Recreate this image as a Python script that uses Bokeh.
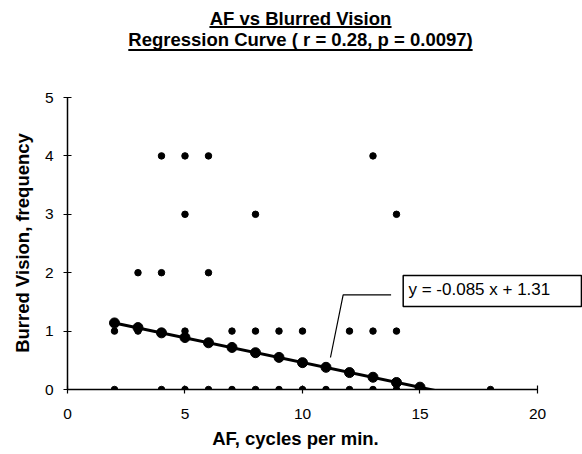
from bokeh.plotting import figure
from bokeh.models import Range1d, FixedTicker, Label, LinearAxis
from bokeh.embed import file_html
from bokeh.resources import INLINE

title_1 = "AF vs Blurred Vision"
title_2 = "Regression Curve ( r = 0.28, p = 0.0097)"
x_label = "AF, cycles per min."
y_label = "Burred Vision, frequency"
equation = "y = -0.085 x  + 1.31"

# observed values (AF, blurred vision frequency)
obs_af = [2, 4, 5, 6, 7, 8, 9, 10, 11, 12, 13, 14, 15, 18,
          2, 3, 5, 7, 8, 9, 10, 12, 13, 14,
          3, 4, 6,
          5, 8, 14,
          4, 5, 6, 13]
obs_bv = [0, 0, 0, 0, 0, 0, 0, 0, 0, 0, 0, 0, 0, 0,
          1, 1, 1, 1, 1, 1, 1, 1, 1, 1,
          2, 2, 2,
          3, 3, 3,
          4, 4, 4, 4]

# fitted values on the regression line
fit_af = [2, 3, 4, 5, 6, 7, 8, 9, 10, 11, 12, 13, 14, 15]
fit_bv = [1.14, 1.06, 0.97, 0.89, 0.80, 0.72, 0.63, 0.55, 0.46, 0.38, 0.29, 0.21, 0.12, 0.04]

# trend line end points
trend_af = [2, 16.5]
trend_bv = [1.14, -0.09]

x_ticks = [0, 5, 10, 15, 20]
y_ticks = [0, 1, 2, 3, 4, 5]

FONT = "Liberation Sans"

p = figure(width=582, height=454,
           x_range=Range1d(0, 21.915), y_range=Range1d(0, 6.661),
           output_backend="svg", toolbar_location=None,
           min_border_left=67, min_border_right=0, min_border_top=0, min_border_bottom=65)
p.background_fill_color = "white"
p.border_fill_color = "white"
p.outline_line_color = None
p.grid.visible = False

xa = p.xaxis[0]
xa.bounds = (0, 20)
xa.ticker = FixedTicker(ticks=x_ticks)
xa.major_label_standoff = 15
ya = p.yaxis[0]
ya.bounds = (0, 5)
ya.ticker = FixedTicker(ticks=y_ticks)
ya.major_label_standoff = 10

for ax in (xa, ya):
    ax.axis_line_color = "black"
    ax.axis_line_width = 1.5
    ax.major_tick_line_color = "black"
    ax.major_tick_line_width = 1.2
    ax.major_tick_in = 4
    ax.major_tick_out = 4
    ax.minor_tick_line_color = None
    ax.major_label_text_font = FONT
    ax.major_label_text_font_size = "15.5px"
    ax.major_label_text_color = "black"

# axis titles, placed as single labelled ticks on extra axes
X_TITLE_AT = 9.70
Y_TITLE_AT = 2.509
xt = LinearAxis(ticker=FixedTicker(ticks=[X_TITLE_AT]),
                major_label_overrides={X_TITLE_AT: x_label},
                axis_line_color=None, major_tick_line_color=None, minor_tick_line_color=None,
                major_tick_in=0, major_tick_out=0, major_label_standoff=6,
                major_label_text_font=FONT, major_label_text_font_size="18.5px",
                major_label_text_font_style="bold", major_label_text_color="black")
p.add_layout(xt, "below")
yt = LinearAxis(ticker=FixedTicker(ticks=[Y_TITLE_AT]),
                major_label_overrides={Y_TITLE_AT: y_label},
                major_label_orientation="vertical",
                axis_line_color=None, major_tick_line_color=None, minor_tick_line_color=None,
                major_tick_in=0, major_tick_out=0, major_label_standoff=8,
                major_label_text_font=FONT, major_label_text_font_size="18.5px",
                major_label_text_font_style="bold", major_label_text_color="black")
p.add_layout(yt, "left")

# trend line and points
p.line(trend_af, trend_bv, line_color="black", line_width=3)
p.scatter(obs_af, obs_bv, marker="circle", size=6.5, fill_color="black", line_color="black")
p.scatter(fit_af, fit_bv, marker="circle", size=10, fill_color="black", line_color="black")

# equation box with leader
p.quad(left=[14.285], right=[21.87], top=[1.952], bottom=[1.421],
       fill_color="white", line_color="black", line_width=1.5)
p.add_layout(Label(x=14.51, y=1.712, text=equation, text_font=FONT, text_font_size="17px",
                   text_baseline="middle", text_align="left", text_color="black"))
p.line([11.19, 11.73, 13.77], [0.548, 1.62, 1.62], line_color="black", line_width=1.2)

# titles with underline
p.add_layout(Label(x=9.915, y=6.354, text=title_1, text_font=FONT, text_font_size="18.5px",
                   text_font_style="bold", text_align="center", text_baseline="middle",
                   text_color="black"))
p.add_layout(Label(x=9.915, y=5.993, text=title_2, text_font=FONT, text_font_size="18.5px",
                   text_font_style="bold", text_align="center", text_baseline="middle",
                   text_color="black"))
p.line([6.04, 13.79], [6.207, 6.207], line_color="black", line_width=2)
p.line([2.587, 17.24], [5.813, 5.813], line_color="black", line_width=2)

open("out.html", "w").write(file_html(p, INLINE))
